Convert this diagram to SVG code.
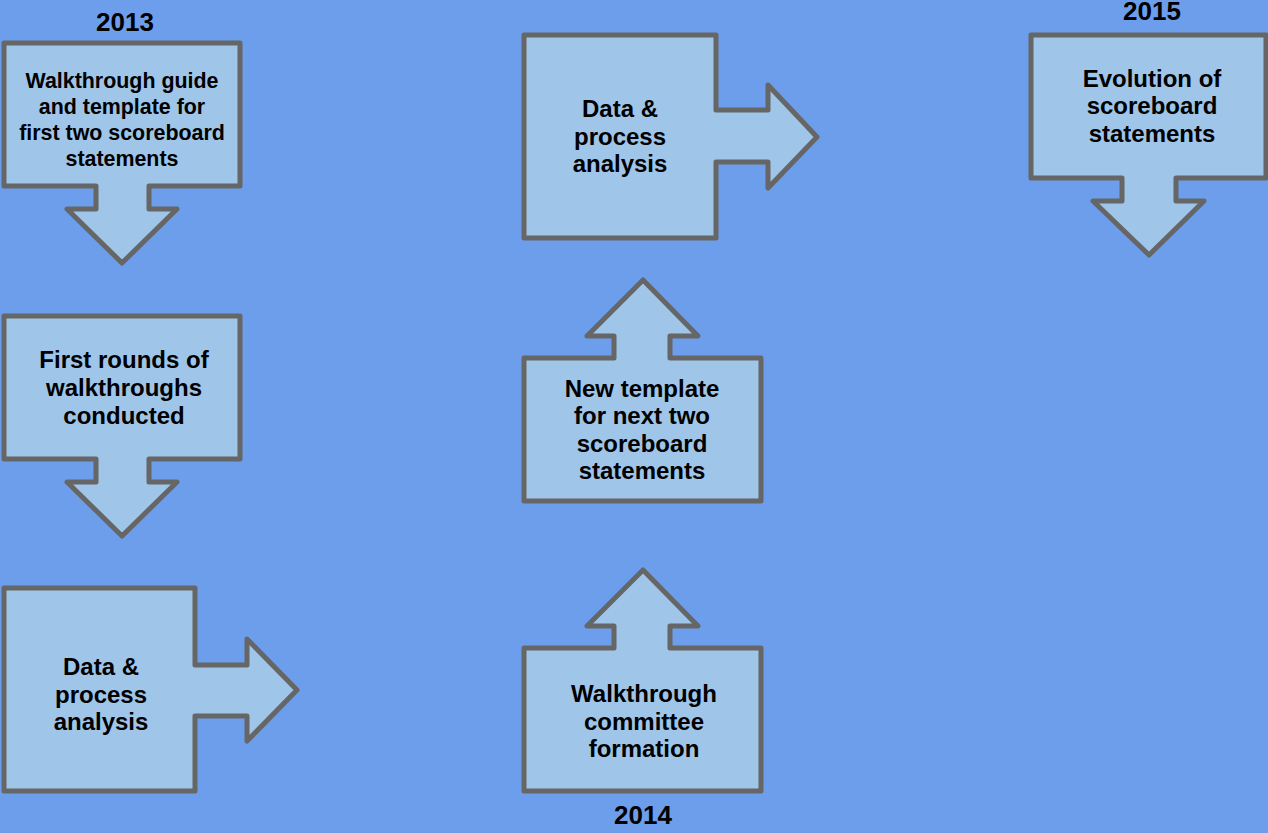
<svg xmlns="http://www.w3.org/2000/svg" width="1268" height="833" viewBox="0 0 1268 833">
  <style>
    .shape { fill: #9fc5e8; stroke: #666666; stroke-width: 5; stroke-linejoin: round; }
    .label { font-family: "Liberation Sans", Arial, sans-serif; font-weight: bold; fill: #000000; text-anchor: middle; }
    .t21 { font-size: 21.4px; }
    .t24 { font-size: 24px; }
    .year { font-size: 26px; }
  </style>
  <rect x="0" y="0" width="1268" height="833" fill="#6d9eeb"/>

  <!-- Year labels -->
  <g id="years">
    <text class="label year" x="125" y="31">2013</text>
    <text class="label year" x="643" y="824">2014</text>
    <text class="label year" x="1152" y="20">2015</text>
  </g>

  <!-- Arrow shapes that carry the flow between steps -->
  <g id="connectors"></g>

  <g id="node-guide">
    <path class="shape" d="M4,43 H240 V186 H149 V209 H177 L122,263 L67,209 H96 V186 H4 Z"/>
    <text class="label t21" x="122" y="88">Walkthrough guide</text>
    <text class="label t21" x="122" y="114">and template for</text>
    <text class="label t21" x="122" y="140">first two scoreboard</text>
    <text class="label t21" x="122" y="166">statements</text>
  </g>

  <g id="node-first-rounds">
    <path class="shape" d="M4,316 H240 V459 H149 V482 H177 L122,536 L67,482 H96 V459 H4 Z"/>
    <text class="label t24" x="124" y="368">First rounds of</text>
    <text class="label t24" x="124" y="396">walkthroughs</text>
    <text class="label t24" x="124" y="424">conducted</text>
  </g>

  <g id="node-analysis-2013">
    <path class="shape" d="M4,588 H195 V665 H247 V639 L297,690 L247,741 V716 H195 V791 H4 Z"/>
    <text class="label t24" x="101" y="675">Data &amp;</text>
    <text class="label t24" x="101" y="703">process</text>
    <text class="label t24" x="101" y="730">analysis</text>
  </g>

  <g id="node-committee">
    <path class="shape" d="M524,648 H614 V626 H587 L643,570 L698,626 H670 V648 H761 V791 H524 Z"/>
    <text class="label t24" x="644" y="702">Walkthrough</text>
    <text class="label t24" x="644" y="730">committee</text>
    <text class="label t24" x="644" y="757">formation</text>
  </g>

  <g id="node-new-template">
    <path class="shape" d="M524,358 H614 V336 H587 L643,280 L698,336 H670 V358 H761 V501 H524 Z"/>
    <text class="label t24" x="642" y="397">New template</text>
    <text class="label t24" x="642" y="424">for next two</text>
    <text class="label t24" x="642" y="452">scoreboard</text>
    <text class="label t24" x="642" y="479">statements</text>
  </g>

  <g id="node-analysis-2014">
    <path class="shape" d="M524,35 H716 V110 H768 V85 L817,137 L768,188 V162 H716 V238 H524 Z"/>
    <text class="label t24" x="620" y="117">Data &amp;</text>
    <text class="label t24" x="620" y="145">process</text>
    <text class="label t24" x="620" y="172">analysis</text>
  </g>

  <g id="node-evolution">
    <path class="shape" d="M1031,35 H1266 V178 H1176 V201 H1204 L1149,255 L1093,201 H1122 V178 H1031 Z"/>
    <text class="label t24" x="1152" y="87">Evolution of</text>
    <text class="label t24" x="1152" y="114">scoreboard</text>
    <text class="label t24" x="1152" y="142">statements</text>
  </g>
</svg>
